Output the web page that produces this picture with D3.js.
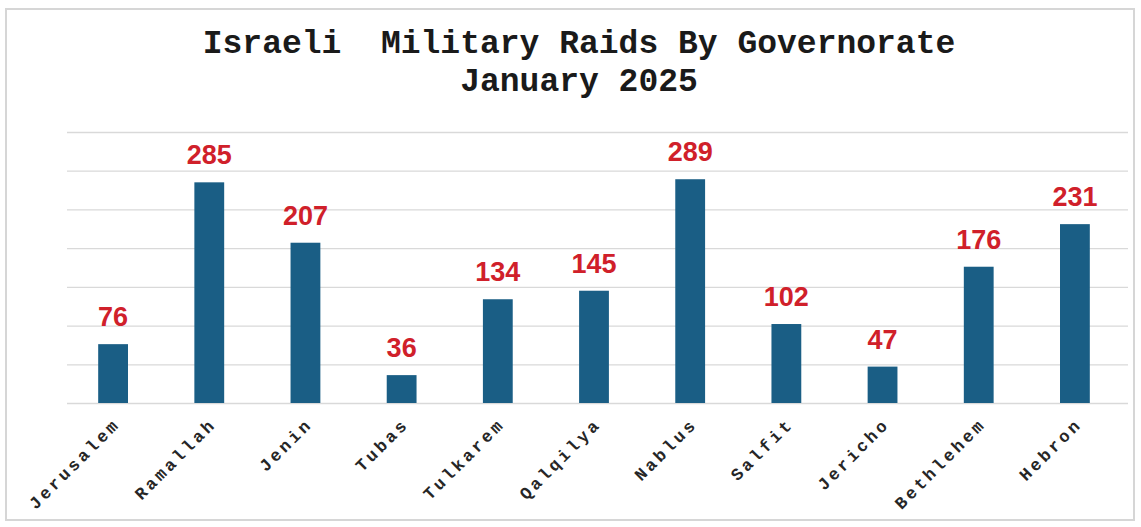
<html>
<head>
	<script src="https://cdn.jsdelivr.net/npm/d3@7"></script>
	<style>
		body { margin: 0; background: #ffffff; }
	</style>
</head>
<body>
	<script type="text/javascript">

		var categories = ["Jerusalem","Ramallah","Jenin","Tubas","Tulkarem","Qalqilya","Nablus","Salfit","Jericho","Bethlehem","Hebron"];
		var raids = [76,285,207,36,134,145,289,102,47,176,231];
		var gridTicks = [0,50,100,150,200,250,300,350];
		var titleLines = ["Israeli  Military Raids By Governorate","January 2025"];

		var width = 1141;
		var height = 527;

		var svg = d3.select("body").append("svg")
				   .attr("width",width)
				   .attr("height",height);

		// outer frame
		svg.append("rect")
		   .attr("x",6).attr("y",9)
		   .attr("width",1128).attr("height",511)
		   .attr("fill","#ffffff")
		   .attr("stroke","#d6d6d6")
		   .attr("stroke-width",2);

		var x = d3.scaleBand()
				  .domain(categories)
				  .range([65,1123])
				  .paddingInner(0.69)
				  .paddingOuter(0.345);

		var y = d3.scaleLinear()
				  .domain([0,350])
				  .range([403,132]);

		// gridlines
		var grid = svg.append("g")
		   .attr("transform","translate(67,0)")
		   .call(d3.axisLeft(y).tickValues(gridTicks).tickSize(-1061).tickFormat(""));
		grid.select(".domain").remove();
		grid.selectAll(".tick line").attr("stroke","#d9d9d9").attr("stroke-width",1.3);

		// bars
		svg.selectAll("rect.bar")
		   .data(raids)
		   .enter()
		   .append("rect")
		   .attr("class","bar")
		   .attr("x",function(d,i){ return x(categories[i]); })
		   .attr("y",function(d){ return y(d); })
		   .attr("width",x.bandwidth())
		   .attr("height",function(d){ return y(0) - y(d); })
		   .attr("fill","#1a5e85");

		// value labels
		svg.selectAll("text.val")
		   .data(raids)
		   .enter()
		   .append("text")
		   .attr("class","val")
		   .attr("x",function(d,i){ return x(categories[i]) + x.bandwidth()/2; })
		   .attr("y",function(d){ return y(d) - 18; })
		   .attr("text-anchor","middle")
		   .attr("font-family","'Liberation Sans', Arial, sans-serif")
		   .attr("font-weight","bold")
		   .attr("font-size","27px")
		   .attr("fill","#d0202a")
		   .text(function(d){ return d; });

		// x axis labels
		var xAxis = svg.append("g")
		   .attr("transform","translate(0,403)")
		   .call(d3.axisBottom(x).tickSize(0));
		xAxis.select(".domain").remove();
		xAxis.selectAll(".tick text")
		   .attr("font-family","'Liberation Mono', 'Courier New', monospace")
		   .attr("font-weight","bold")
		   .attr("font-size","17px")
		   .attr("letter-spacing","3.2px")
		   .attr("fill","#262626")
		   .attr("text-anchor","end")
		   .attr("dy","0")
		   .attr("y",0)
		   .attr("transform","translate(8,22) rotate(-45)");

		// title
		svg.selectAll("text.title")
		   .data(titleLines)
		   .enter()
		   .append("text")
		   .attr("class","title")
		   .attr("x",579)
		   .attr("y",function(d,i){ return 53 + i*38; })
		   .attr("text-anchor","middle")
		   .attr("font-family","'Liberation Mono', 'Courier New', monospace")
		   .attr("font-weight","bold")
		   .attr("font-size","33px")
		   .attr("fill","#1a1a1a")
		   .style("white-space","pre")
		   .text(function(d){ return d; });

	</script>
</body>
</html>
